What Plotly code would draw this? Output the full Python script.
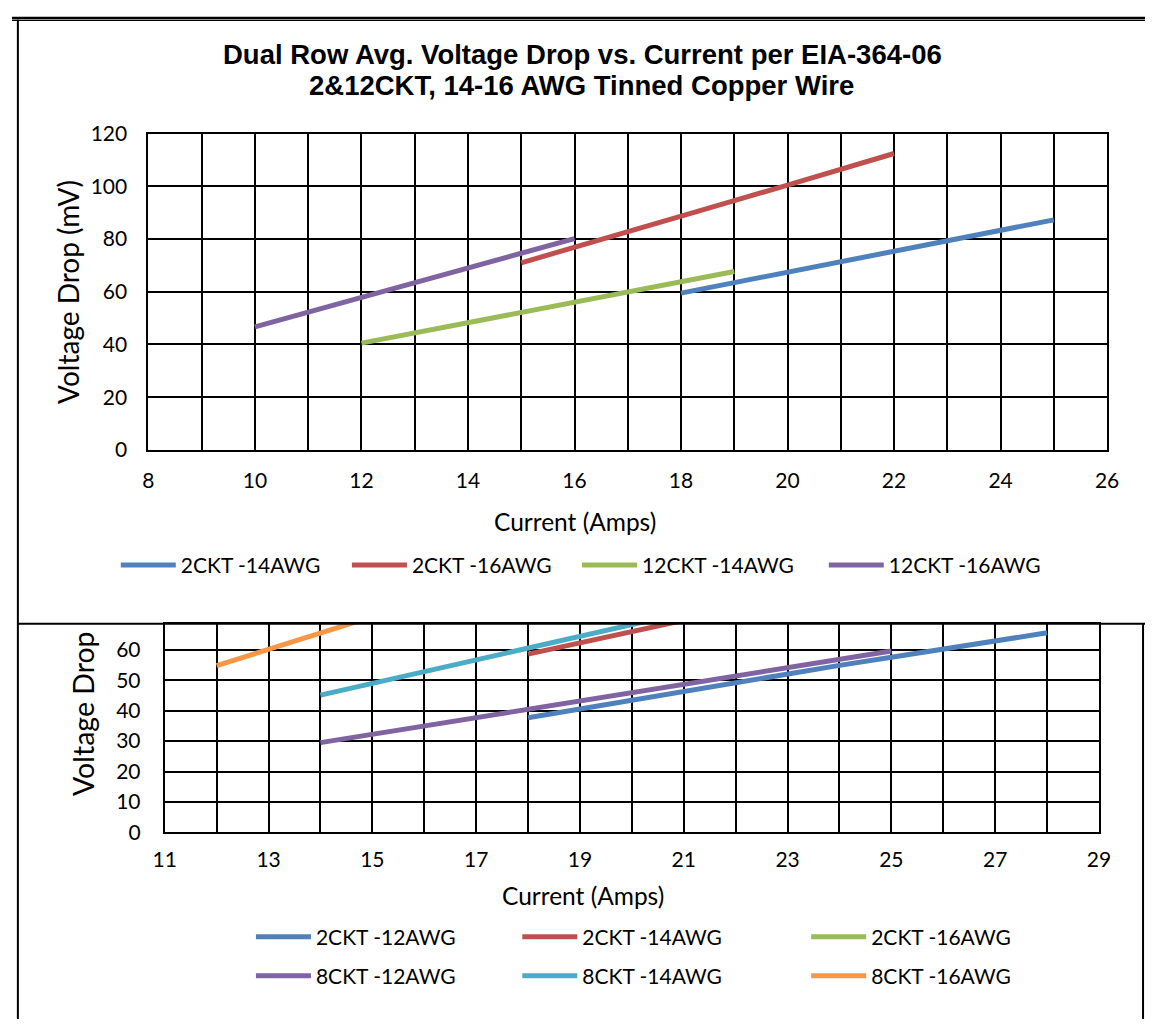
import plotly.graph_objects as go

W, H = 1157, 1030

# ---------------- top chart data ----------------
top_names = ["2CKT -14AWG", "2CKT -16AWG", "12CKT -14AWG", "12CKT -16AWG"]
top_colors = ["#4F81BD", "#C0504D", "#9BBB59", "#8064A2"]
x_2ckt_14awg = [18, 19, 20, 21, 22, 23, 24, 25]
y_2ckt_14awg = [59.5, 63.5, 67.4, 71.3, 75.2, 79.2, 83.2, 87.3]
x_2ckt_16awg = [15, 16, 17, 18, 19, 20, 21, 22]
y_2ckt_16awg = [71.0, 77.0, 82.9, 88.8, 94.6, 100.5, 106.5, 112.5]
x_12ckt_14awg = [12, 13, 14, 15, 16, 17, 18, 19]
y_12ckt_14awg = [40.5, 44.4, 48.3, 52.2, 56.0, 59.9, 63.8, 67.7]
x_12ckt_16awg = [10, 11, 12, 13, 14, 15, 16]
y_12ckt_16awg = [46.7, 52.3, 57.9, 63.5, 69.1, 74.6, 80.2]
top_x = [x_2ckt_14awg, x_2ckt_16awg, x_12ckt_14awg, x_12ckt_16awg]
top_y = [y_2ckt_14awg, y_2ckt_16awg, y_12ckt_14awg, y_12ckt_16awg]

# ---------------- bottom chart data ----------------
bot_names = ["2CKT -12AWG", "2CKT -14AWG", "2CKT -16AWG",
             "8CKT -12AWG", "8CKT -14AWG", "8CKT -16AWG"]
bot_colors = ["#4F81BD", "#C0504D", "#9BBB59", "#8064A2", "#4BACC6", "#F79646"]
xb_2ckt_12awg = [18, 19, 20, 21, 22, 23, 24, 25, 26, 27, 28]
yb_2ckt_12awg = [37.7, 40.6, 43.5, 46.4, 49.4, 52.2, 54.9, 57.6, 60.3, 63.0, 65.6]
xb_2ckt_14awg = [18, 19, 20, 21, 22, 23, 24, 25]
yb_2ckt_14awg = [58.6, 62.3, 66.0, 69.7, 73.4, 77.1, 80.8, 84.5]
xb_2ckt_16awg = [15, 16, 17, 18, 19, 20, 21, 22]
yb_2ckt_16awg = [80.0, 86.0, 92.0, 98.0, 104.0, 110.0, 116.0, 122.0]
xb_8ckt_12awg = [14, 15, 16, 17, 18, 19, 20, 21, 22, 23, 24, 25]
yb_8ckt_12awg = [29.5, 32.2, 35.0, 37.7, 40.4, 43.1, 45.9, 48.6, 51.4, 54.1, 56.9, 59.6]
xb_8ckt_14awg = [14, 15, 16, 17, 18, 19, 20, 21, 22]
yb_8ckt_14awg = [45.1, 48.9, 52.8, 56.7, 60.5, 64.4, 68.3, 72.2, 76.1]
xb_8ckt_16awg = [12, 13, 14, 15, 16, 17, 18]
yb_8ckt_16awg = [54.8, 60.2, 65.5, 70.9, 76.2, 81.6, 87.0]
bot_x = [xb_2ckt_12awg, xb_2ckt_14awg, xb_2ckt_16awg, xb_8ckt_12awg, xb_8ckt_14awg, xb_8ckt_16awg]
bot_y = [yb_2ckt_12awg, yb_2ckt_14awg, yb_2ckt_16awg, yb_8ckt_12awg, yb_8ckt_14awg, yb_8ckt_16awg]

title_line1 = "Dual Row Avg. Voltage Drop vs. Current per EIA-364-06"
title_line2 = "2&12CKT, 14-16 AWG Tinned Copper Wire"
x_title = "Current (Amps)"
y_title_top = "Voltage Drop (mV)"
y_title_bottom_visible = "Voltage Drop"


def px(x):
    return x / W


def py(y):
    return 1 - y / H


FONT = "Lato"
TICK = 21
LEG = 21

fig = go.Figure()

# legend placements (left x of sample line, center y) in page pixels
top_leg_pos = [(111, 565), (347, 565), (582, 565), (834, 565)]
bot_leg_pos = [(249, 946), (521, 946), (816, 946), (249, 986), (521, 986), (816, 986)]

legend_layouts = {}
idx = 1
for name, col, xs, ys, pos in zip(top_names, top_colors, top_x, top_y, top_leg_pos):
    lname = "legend" if idx == 1 else f"legend{idx}"
    fig.add_trace(go.Scatter(x=xs, y=ys, mode="lines", name=name,
                             line=dict(color=col, width=5), xaxis="x", yaxis="y",
                             legend=lname))
    legend_layouts[lname] = dict(x=px(pos[0] - 5), y=py(pos[1]), xanchor="left", yanchor="middle",
                                 orientation="h", bgcolor="rgba(0,0,0,0)",
                                 font=dict(family=FONT, size=LEG, color="black"), itemwidth=55)
    idx += 1
for name, col, xs, ys, pos in zip(bot_names, bot_colors, bot_x, bot_y, bot_leg_pos):
    lname = f"legend{idx}"
    fig.add_trace(go.Scatter(x=xs, y=ys, mode="lines", name=name,
                             line=dict(color=col, width=5), xaxis="x2", yaxis="y2",
                             legend=lname))
    legend_layouts[lname] = dict(x=px(pos[0] - 5), y=py(pos[1]), xanchor="left", yanchor="middle",
                                 orientation="h", bgcolor="rgba(0,0,0,0)",
                                 font=dict(family=FONT, size=LEG, color="black"), itemwidth=55)
    idx += 1

grid = dict(gridcolor="black", gridwidth=2, showline=True, linecolor="black", linewidth=2,
            mirror=True, zeroline=False, ticks="",
            tickfont=dict(family=FONT, size=TICK, color="black"))

bot_top_val = (838.7 - 625) / 3.117

fig.update_layout(
    width=W, height=H,
    margin=dict(l=0, r=0, t=0, b=0),
    paper_bgcolor="white", plot_bgcolor="white",
    showlegend=True,
    xaxis=dict(domain=[px(139.3), px(1118.3)], range=[8, 26], tick0=8, dtick=2,
               minor=dict(dtick=1, tick0=8, showgrid=True, gridcolor="black", gridwidth=2),
               anchor="y", ticklabelstandoff=11, **grid),
    yaxis=dict(domain=[py(446.7), py(122.7)], range=[0, 120], dtick=20,
               anchor="x", ticklabelstandoff=15, **grid),
    xaxis2=dict(domain=[px(156), px(1110)], range=[11, 29], tick0=11, dtick=2,
                minor=dict(dtick=1, tick0=11, showgrid=True, gridcolor="black", gridwidth=2),
                anchor="y2", ticklabelstandoff=7, **grid),
    yaxis2=dict(domain=[py(838.7), py(625)], range=[0, bot_top_val], dtick=10,
                anchor="x2", ticklabelstandoff=18, **grid),
    **legend_layouts,
)

annos = [
    dict(text="<b>" + title_line1 + "</b>", x=px(583), y=py(41),
         font=dict(family="Liberation Sans", size=27.5, color="black")),
    dict(text="<b>" + title_line2 + "</b>", x=px(582), y=py(73),
         font=dict(family="Liberation Sans", size=27.5, color="black")),
    dict(text=x_title, x=px(575), y=py(520), font=dict(family=FONT, size=24.5, color="black")),
    dict(text=y_title_top, x=px(57), y=py(285), textangle=-90,
         font=dict(family=FONT, size=28, color="black")),
    dict(text=x_title, x=px(583), y=py(903), font=dict(family=FONT, size=24.5, color="black")),
    dict(text=y_title_bottom_visible, x=px(72), y=py(717), textangle=-90,
         font=dict(family=FONT, size=28.5, color="black")),
]
for a in annos:
    fig.add_annotation(xref="paper", yref="paper", xanchor="center", yanchor="middle",
                       showarrow=False, **a)

# chart-area borders (page pixels)
border = [
    dict(x0=0, x1=W, y0=4, y1=4, w=2.5),
    dict(x0=0, x1=W, y0=6.5, y1=6.5, w=1.2),
    dict(x0=6, x1=6, y0=6, y1=H, w=2),
    dict(x0=6, x1=W, y0=625, y1=625, w=2),
    dict(x0=1155, x1=1155, y0=625, y1=H, w=2),
]
for b in border:
    fig.add_shape(type="line", xref="paper", yref="paper",
                  x0=px(b["x0"]), x1=px(b["x1"]), y0=py(b["y0"]), y1=py(b["y1"]),
                  line=dict(color="black", width=b["w"]))

# the page body keeps no default margin, so the figure fills the 1157x1030 window exactly
fig.write_html("out.html",
               config={"displayModeBar": False},
               post_script="document.body.style.margin='0';document.body.style.overflow='hidden';")
